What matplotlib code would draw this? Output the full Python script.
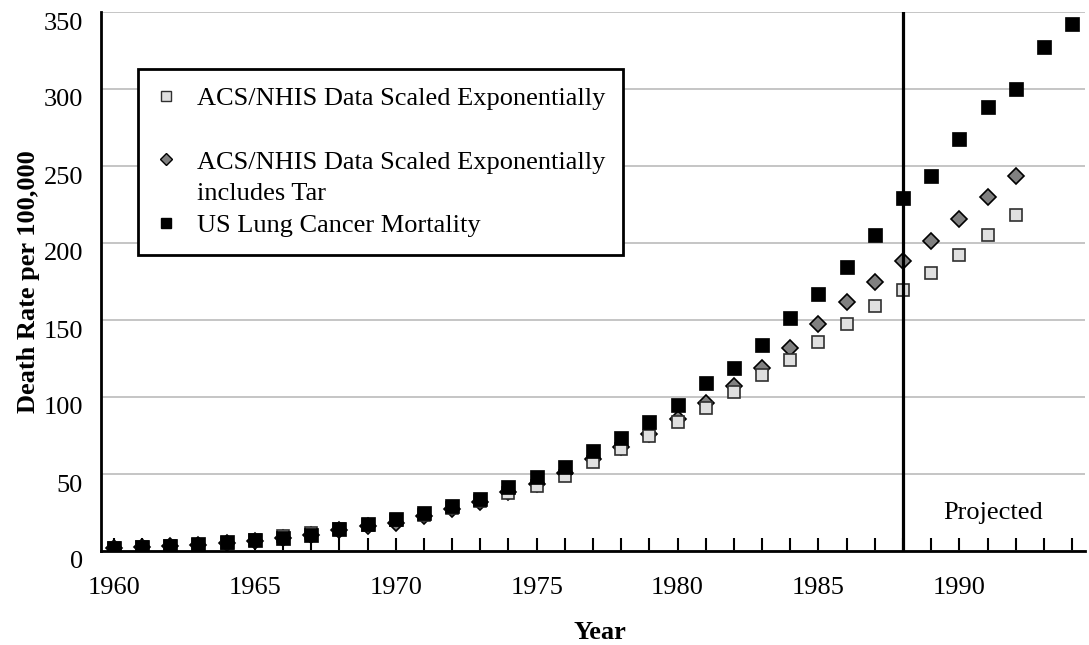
import numpy as np
import matplotlib
matplotlib.use("Agg")
import matplotlib.pyplot as plt
import matplotlib.transforms as mtransforms
from matplotlib.lines import Line2D

plt.rcParams['font.family'] = ['Liberation Serif', 'DejaVu Serif']
plt.rcParams['font.size'] = 19

# data
years_us = list(range(1960, 1995))
us_mortality = [2.2, 2.8, 3.5, 4.5, 5.6, 6.9, 8.5, 10.5, 14, 17.5,
                20.5, 24.5, 29.5, 34, 41.5, 47.8, 54.5, 65, 73.5, 84,
                95, 109, 119, 133.5, 151.5, 167, 184.5, 205.5, 229.5, 243.5,
                267.5, 288.5, 300, 327.5, 342]

years_acs = list(range(1960, 1993))
acs_scaled = [2, 2.5, 3.2, 4.2, 5.5, 7, 9.5, 11.5, 14, 17,
              20, 23.5, 28, 32.5, 37.5, 42.5, 49, 58, 66.5, 75,
              84, 93, 103, 114, 124, 135.6, 147.5, 159, 169.5, 180.5,
              192, 205, 218]
acs_tar = [2, 2.5, 3.2, 4.2, 5.5, 6.8, 8.5, 10.5, 13.5, 16,
           18.5, 23, 27, 32, 38, 43.5, 50.5, 59.5, 67.5, 76,
           86, 96, 107, 119, 132, 147.5, 162, 175, 188.5, 201,
           215.5, 230, 243.5]

projection_start = 1988
y_ticks = [0, 50, 100, 150, 200, 250, 300, 350]

fig = plt.figure(figsize=(10.89, 6.45), dpi=100)
ax = fig.add_axes([101/1089, 1-551/645, 984/1089, 539/645])

ax.plot(years_acs, acs_tar, linestyle='none', marker='D', markersize=8.6,
        markerfacecolor='#808080', markeredgecolor='black', markeredgewidth=1.2, zorder=3)
ax.plot(years_acs, acs_scaled, linestyle='none', marker='s', markersize=9.2,
        markerfacecolor='#e0e0e0', markeredgecolor='#303030', markeredgewidth=1.2, zorder=4)
ax.plot(years_us, us_mortality, linestyle='none', marker='s', markersize=9.8,
        markerfacecolor='black', markeredgecolor='black', markeredgewidth=0.5, zorder=5)

ax.axvline(projection_start, color='black', lw=2.3, zorder=6)
ax.text(1991.2, 25, "Projected", ha='center', va='center', fontsize=19)

ax.set_xlim(1959.54, 1994.46)
ax.set_ylim(0, 350)
ax.set_yticks(y_ticks)
ax.set_xticks(years_us)
ax.set_xticklabels([str(y) if y % 5 == 0 else '' for y in years_us])
ax.tick_params(axis='x', direction='in', length=9.5, width=1.5, pad=19)
ax.tick_params(axis='y', length=0, pad=13)
# y labels sit a little below their gridlines
offset = mtransforms.ScaledTranslation(0, -0.09, fig.dpi_scale_trans)
for lab in ax.get_yticklabels():
    lab.set_transform(lab.get_transform() + offset)

ax.grid(axis='y', color='#c0c0c0', lw=1.3)
ax.set_axisbelow(True)
for s in ['top', 'right']:
    ax.spines[s].set_visible(False)
for s in ['left', 'bottom']:
    ax.spines[s].set_linewidth(2)
    ax.spines[s].set_zorder(7)

ax.set_xlabel("Year", fontweight='bold', va='top')
ax.xaxis.set_label_coords(0.507, -0.13)
ax.set_ylabel("Death Rate per 100,000", fontweight='bold', va='center')
ax.yaxis.set_label_coords(-0.074, 0.5)

h_sq = Line2D([], [], linestyle='none', marker='s', markersize=6.5,
              markerfacecolor='#e0e0e0', markeredgecolor='#303030', markeredgewidth=1)
h_dia = Line2D([], [], linestyle='none', marker='D', markersize=6,
               markerfacecolor='#808080', markeredgecolor='black', markeredgewidth=1)
h_us = Line2D([], [], linestyle='none', marker='s', markersize=6.5,
              markerfacecolor='black', markeredgecolor='black')
h_blank = Line2D([], [], linestyle='none')
leg = ax.legend([h_sq, h_blank, h_dia, h_blank, h_us],
                ["ACS/NHIS Data Scaled Exponentially", " ",
                 "ACS/NHIS Data Scaled Exponentially", "includes Tar",
                 "US Lung Cancer Mortality"],
                loc='upper left', bbox_to_anchor=(0.0376, 0.894), borderaxespad=0,
                fancybox=False, frameon=True, edgecolor='black', framealpha=1,
                labelspacing=0.31, handlelength=0.8, handletextpad=0.75,
                borderpad=0.67, fontsize=19)
leg.get_frame().set_linewidth(2)
leg.set_zorder(8)

fig.savefig("out.png", dpi=100)
